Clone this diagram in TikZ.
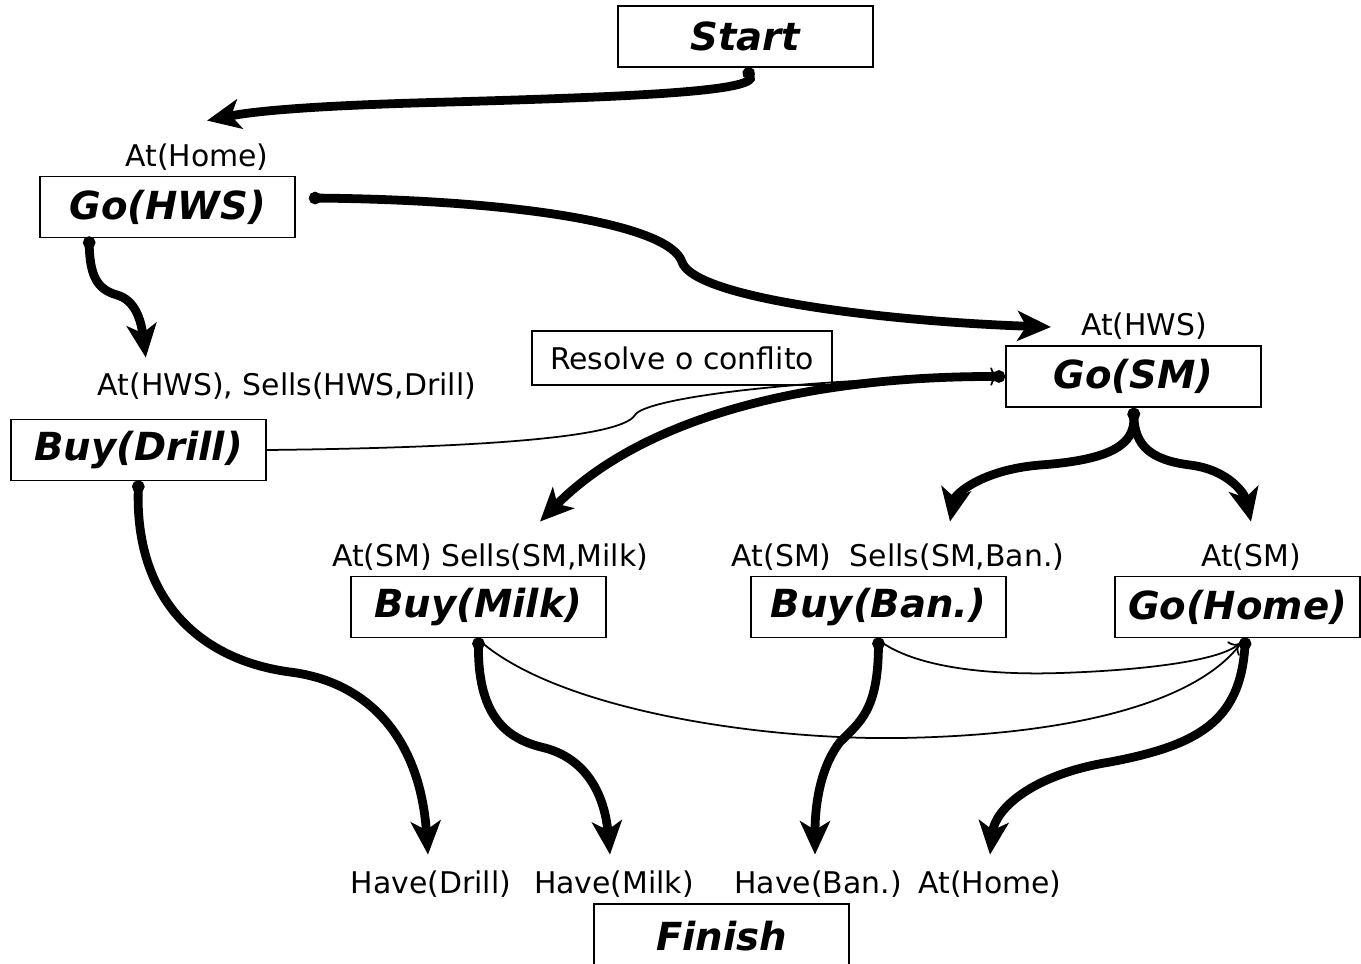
\documentclass[tikz,border=0pt]{standalone}
\usepackage{fontspec}
\setmainfont{DejaVu Sans}
\usetikzlibrary{arrows.meta, calc}

\newcommand{\condfont}{\fontsize{17}{20}\selectfont}
\newcommand{\actfont}{\fontsize{22}{26}\selectfont\bfseries\itshape}

\tikzset{
	act/.style={draw, line width=1.1pt, minimum width=5.1cm, minimum height=1.22cm, inner sep=0pt, font=\actfont},
	cond/.style={inner sep=1pt, font=\condfont},
	flow/.style={line width=5pt, arrows={Circle[length=7pt]-Stealth[length=19pt, width=17pt, inset=5pt]}},
	link/.style={line width=1pt}
}

\begin{document}
\begin{tikzpicture}[x=0.02cm, y=-0.02cm]
	\useasboundingbox (0,0) rectangle (1361,963);

	% actions
	\node[act] (start) at (745.5,36.5) {Start};
	\node[act] (gohws) at (167.5,207) {Go(HWS)};
	\node[act] (buydrill) at (138.5,450) {Buy(Drill)};
	\node[act] (gosm) at (1133.5,376.5) {Go(SM)};
	\node[act] (buymilk) at (478.5,607) {Buy(Milk)};
	\node[act] (buyban) at (878.5,607) {Buy(Ban.)};
	\node[act, minimum width=4.9cm] (gohome) at (1237.5,607) {Go(Home)};
	\node[act, minimum height=1.4cm] (finish) at (721.5,939) {};
	\node[font=\actfont] at (721.5,936) {Finish};
	\node[draw, line width=1.1pt, minimum width=6cm, minimum height=1.08cm, inner sep=0pt, font=\condfont] (resolve) at (682,358) {Resolve o conflito};

	% conditions
	\node[cond] (athome) at (197,157) {At(Home)};
	\node[cond] (cdrill) at (287,386) {At(HWS), Sells(HWS,Drill)};
	\node[cond] (athws) at (1144,326) {At(HWS)};
	\node[cond] (cmilk) at (490,557) {At(SM) Sells(SM,Milk)};
	\node[cond] (cban) at (898,557) {At(SM)\hspace{0.3em} Sells(SM,Ban.)};
	\node[cond] (atsm) at (1251,557) {At(SM)};
	\node[cond] (havedrill) at (431,884) {Have(Drill)};
	\node[cond] (havemilk) at (614,884) {Have(Milk)};
	\node[cond] (haveban) at (818,884) {Have(Ban.)};
	\node[cond] (athomeb) at (990,884) {At(Home)};

	% causal links
	\draw[flow] (start.south) .. controls (760,92) and (620,97) .. (450,102) .. controls (330,105) and (260,110) .. ($(athome.north)+(10,-21)$);
	\draw[flow] ($(gohws.east)+(13,-9)$) .. controls (520,200) and (670,225) .. (682,262) .. controls (695,300) and (900,322) .. ($(athws.west)+(-28,1)$);
	\draw[flow] ($(gohws.south west)+(50,-2)$) .. controls (90,280) and (100,290) .. (117,295) .. controls (135,300) and (141,320) .. ($(cdrill.north west)+(50,-13)$);
	\draw[flow] (gosm.west) .. controls (800,376) and (640,420) .. ($(cmilk.north)+(50,-20)$);
	\draw[flow] (gosm.south) .. controls (1135,445) and (1110,460) .. (1040,465) .. controls (980,470) and (955,495) .. ($(cban.north)+(52,-20)$);
	\draw[flow] (gosm.south) .. controls (1135,445) and (1150,460) .. (1190,465) .. controls (1230,470) and (1245,495) .. ($(atsm.north)+(0,-20)$);
	\draw[flow] ($(buydrill.south)+(0,-1)$) .. controls (135,600) and (200,660) .. (290,672) .. controls (370,682) and (420,740) .. ($(havedrill.north)+(-3,-14)$);
	\draw[flow] ($(buymilk.south)+(0,-1)$) .. controls (478,720) and (510,740) .. (545,748) .. controls (590,760) and (605,800) .. ($(havemilk.north)+(-4,-14)$);
	\draw[flow] ($(buyban.south)+(0,-1)$) .. controls (878,710) and (860,722) .. (840,742) .. controls (822,765) and (815,800) .. ($(haveban.north)+(-3,-14)$);
	\draw[flow] ($(gohome.south)+(8,-1)$) .. controls (1240,720) and (1200,745) .. (1110,762) .. controls (1030,775) and (995,810) .. ($(athomeb.north)+(0,-14)$);

	% threats
	\draw[link, -{To[length=5pt]}] (buydrill.east) .. controls (450,448) and (620,440) .. (635,415) .. controls (645,398) and (800,378) .. ($(gosm.west)+(-6,0)$);
	\draw[link] ($(buymilk.south)+(2,3)$) .. controls (560,710) and (760,740) .. (900,738) .. controls (1080,735) and (1200,700) .. ($(gohome.south)+(4,4)$);
	\draw[link, -{To[length=5pt]}] ($(buyban.south)+(2,3)$) .. controls (920,670) and (1000,675) .. (1060,673) .. controls (1150,670) and (1220,660) .. ($(gohome.south)+(2,5)$);
\end{tikzpicture}
\end{document}
